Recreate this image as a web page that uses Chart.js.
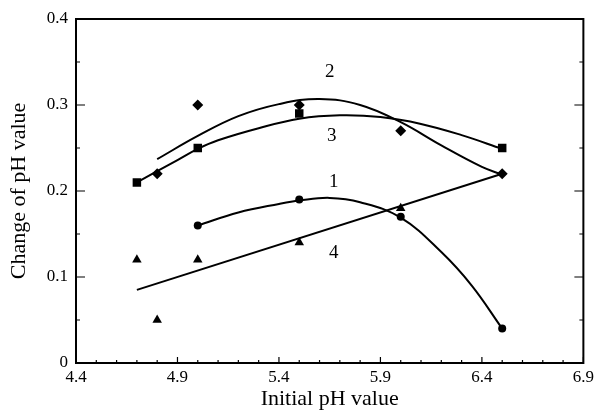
<!DOCTYPE html>
<html>
<head>
<meta charset="utf-8">
<script src="https://cdn.jsdelivr.net/npm/chart.js@4/dist/chart.umd.min.js"></script>
<style>
  html, body { margin: 0; padding: 0; background: #fff; }
  #wrap { width: 598px; height: 416px; }
</style>
</head>
<body>
<div id="wrap"><canvas id="grafico"></canvas></div>
<script>
// Eixos
const xTicks = [4.4, 4.9, 5.4, 5.9, 6.4, 6.9];
const yTicks = [0, 0.1, 0.2, 0.3, 0.4];

// Pontos medidos (curvas 1 a 4)
const x1 = [5.0, 5.5, 6.0, 6.5];
const y1 = [0.16, 0.19, 0.17, 0.04];
const x2 = [4.8, 5.0, 5.5, 6.0, 6.5];
const y2 = [0.22, 0.30, 0.30, 0.27, 0.22];
const x3 = [4.7, 5.0, 5.5, 6.5];
const y3 = [0.21, 0.25, 0.29, 0.25];
const x4 = [4.7, 4.8, 5.0, 5.5, 6.0];
const y4 = [0.12, 0.05, 0.12, 0.14, 0.18];

// Curvas ajustadas
const fit1x = [5.0, 5.2, 5.4, 5.5, 5.65, 5.8, 6.0, 6.2, 6.35, 6.5];
const fit1y = [0.16, 0.175, 0.185, 0.189, 0.192, 0.187, 0.169, 0.129, 0.09, 0.04];
const fit2x = [4.8, 5.0, 5.2, 5.4, 5.6, 5.8, 6.0, 6.2, 6.4, 6.5];
const fit2y = [0.237, 0.264, 0.287, 0.301, 0.307, 0.300, 0.280, 0.253, 0.228, 0.219];
const fit3x = [4.7, 4.9, 5.0, 5.1, 5.3, 5.5, 5.7, 5.9, 6.1, 6.3, 6.5];
const fit3y = [0.21, 0.236, 0.249, 0.259, 0.273, 0.284, 0.288, 0.286, 0.278, 0.265, 0.249];
const fit4x = [4.7, 6.5];
const fit4y = [0.085, 0.22];

// Etiquetas das curvas
const labelTxt = ['1', '2', '3', '4'];
const labelX = [5.67, 5.65, 5.66, 5.67];
const labelY = [0.21, 0.338, 0.264, 0.128];

const FONT = "'Liberation Serif', 'DejaVu Serif', serif";

function pts(xs, ys) {
    return xs.map((x, i) => ({ x: x, y: ys[i] }));
}

function marcador(xs, ys, estilo, raio) {
    return {
        data: pts(xs, ys),
        showLine: false,
        pointStyle: estilo,
        pointRadius: raio,
        backgroundColor: '#000',
        borderColor: '#000',
        borderWidth: 0
    };
}

function curva(xs, ys, tensao) {
    return {
        data: pts(xs, ys),
        showLine: true,
        tension: tensao,
        pointRadius: 0,
        borderColor: '#000',
        borderWidth: 2,
        fill: false
    };
}

// Moldura e marcas para dentro
const moldura = {
    id: 'moldura',
    afterDatasetsDraw(chart) {
        const ctx = chart.ctx;
        const a = chart.chartArea;
        const sx = chart.scales.x, sy = chart.scales.y;
        ctx.save();
        ctx.strokeStyle = '#000';
        ctx.lineWidth = 2;
        ctx.strokeRect(a.left, a.top, a.right - a.left, a.bottom - a.top);
        ctx.lineWidth = 1.2;
        ctx.beginPath();
        for (let i = 0; i <= 25; i++) {
            const v = 4.4 + i * 0.1;
            const px = sx.getPixelForValue(v);
            const len = (i % 5 === 0) ? 6 : 3;
            ctx.moveTo(px, a.bottom);
            ctx.lineTo(px, a.bottom - len);
        }
        for (let i = 0; i <= 8; i++) {
            const v = i * 0.05;
            const py = sy.getPixelForValue(v);
            const len = (i % 2 === 0) ? 9 : 4;
            ctx.moveTo(a.left, py);
            ctx.lineTo(a.left + len, py);
            ctx.moveTo(a.right, py);
            ctx.lineTo(a.right - len, py);
        }
        ctx.stroke();
        ctx.restore();
    },
    afterDraw(chart) {
        const ctx = chart.ctx;
        const sx = chart.scales.x, sy = chart.scales.y;
        ctx.save();
        ctx.fillStyle = '#000';
        ctx.font = '19px ' + FONT;
        ctx.textAlign = 'center';
        ctx.textBaseline = 'middle';
        labelTxt.forEach((t, i) => {
            ctx.fillText(t, sx.getPixelForValue(labelX[i]), sy.getPixelForValue(labelY[i]));
        });
        ctx.restore();
    }
};

new Chart(document.getElementById('grafico'), {
    type: 'scatter',
    data: {
        datasets: [
            curva(fit1x, fit1y, 0.4),
            curva(fit2x, fit2y, 0.4),
            curva(fit3x, fit3y, 0.4),
            curva(fit4x, fit4y, 0),
            marcador(x1, y1, 'circle', 4),
            marcador(x2, y2, 'rectRot', 5.5),
            marcador(x3, y3, 'rect', 6),
            marcador(x4, y4, 'triangle', 5.5)
        ]
    },
    options: {
        responsive: true,
        maintainAspectRatio: false,
        animation: false,
        layout: { padding: { top: 19, right: 13, left: 0, bottom: 0 } },
        plugins: { legend: { display: false }, tooltip: { enabled: false } },
        scales: {
            x: {
                type: 'linear',
                min: 4.4,
                max: 6.9,
                afterBuildTicks: s => { s.ticks = xTicks.map(v => ({ value: v })); },
                afterFit: s => { s.height = 53; },
                grid: { display: false, drawTicks: false },
                border: { display: false },
                ticks: {
                    padding: 4,
                    color: '#000',
                    font: { family: FONT, size: 17 },
                    callback: v => v.toFixed(1)
                },
                title: {
                    display: true,
                    text: 'Initial pH value',
                    color: '#000',
                    font: { family: FONT, size: 22 },
                    padding: { top: 4, bottom: 4 }
                }
            },
            y: {
                type: 'linear',
                min: 0,
                max: 0.4,
                afterBuildTicks: s => { s.ticks = yTicks.map(v => ({ value: v })); },
                afterFit: s => { s.width = 76; },
                grid: { display: false, drawTicks: false },
                border: { display: false },
                ticks: {
                    padding: 8,
                    color: '#000',
                    font: { family: FONT, size: 17 },
                    callback: v => v === 0 ? '0' : v.toFixed(1)
                },
                title: {
                    display: true,
                    text: 'Change of pH value',
                    color: '#000',
                    font: { family: FONT, size: 22 },
                    padding: { top: 6, bottom: 6 }
                }
            }
        }
    },
    plugins: [moldura]
});
</script>
</body>
</html>
